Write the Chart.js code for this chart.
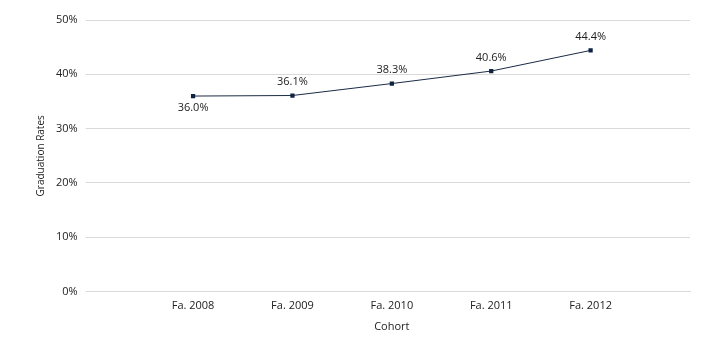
<!DOCTYPE html>
<html>
<head>
<meta charset="utf-8">
<script src="https://cdn.jsdelivr.net/npm/chart.js@4"></script>
<style>
  html, body { margin: 0; padding: 0; background: #fff; }
</style>
</head>
<body>
<canvas id="myChart" width="716" height="350"></canvas>
<script>
// cohorts, padded with an empty slot on each side like the original
const cohorts = ['', 'Fa. 2008', 'Fa. 2009', 'Fa. 2010', 'Fa. 2011', 'Fa. 2012', ''];
const gradRates = [null, 36.0, 36.1, 38.3, 40.6, 44.4, null];
// label goes under the point for these indexes
const labelBelow = [1];

Chart.defaults.font.family = "'Open Sans', 'Noto Sans', sans-serif";
Chart.defaults.font.size = 11;
Chart.defaults.color = '#222';

// draws the value labels next to each point
const pointLabels = {
    id: 'pointLabels',
    afterDatasetsDraw(chart) {
        const ctx = chart.ctx;
        const meta = chart.getDatasetMeta(0);
        ctx.save();
        ctx.font = "11px 'Open Sans', 'Noto Sans', sans-serif";
        ctx.fillStyle = '#222';
        ctx.textAlign = 'center';
        meta.data.forEach((pt, i) => {
            const v = gradRates[i];
            if (v === null) return;
            if (labelBelow.includes(i)) {
                ctx.textBaseline = 'top';
                ctx.fillText(v.toFixed(1) + '%', pt.x, pt.y + 6);
            } else {
                ctx.textBaseline = 'bottom';
                ctx.fillText(v.toFixed(1) + '%', pt.x, pt.y - 8);
            }
        });
        ctx.restore();
    }
};

var ctx = document.getElementById('myChart').getContext('2d');
var chart = new Chart(ctx, {
    type: 'line',
    data: {
        labels: cohorts,
        datasets: [{
            label: 'Graduation Rates',
            data: gradRates,
            borderColor: '#1b2b45',
            backgroundColor: '#0f2340',
            borderWidth: 1,
            pointStyle: 'rect',
            pointRadius: 3,
            pointBorderWidth: 0,
            tension: 0
        }]
    },
    options: {
        responsive: false,
        animation: false,
        layout: { padding: { left: 35, right: 26, top: 20, bottom: 17 } },
        plugins: {
            legend: { display: false },
            tooltip: { enabled: false }
        },
        scales: {
            x: {
                offset: false,
                grid: { display: false },
                border: { color: '#d9d9d9' },
                ticks: { autoSkip: false, maxRotation: 0, padding: 0 },
                title: { display: true, text: 'Cohort', padding: { top: 7, bottom: 0 } }
            },
            y: {
                min: 0,
                max: 50,
                grid: { color: '#d9d9d9' },
                border: { display: false },
                ticks: {
                    stepSize: 10,
                    padding: 8,
                    callback: v => v + '%'
                },
                title: { display: true, text: 'Graduation Rates', font: { size: 10 }, padding: { top: 0, bottom: 1 } }
            }
        }
    },
    plugins: [pointLabels]
});
</script>
</body>
</html>
